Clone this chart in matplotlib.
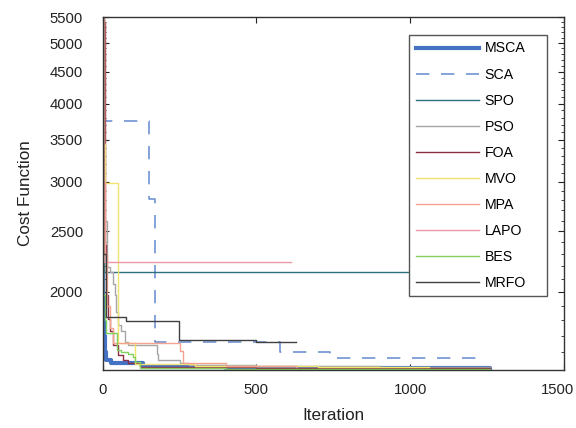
import matplotlib
matplotlib.use("Agg")
import matplotlib.pyplot as plt
from matplotlib.ticker import FixedLocator, NullFormatter, FixedFormatter
from matplotlib.transforms import ScaledTranslation

plt.rcParams['font.family'] = ['Liberation Sans', 'DejaVu Sans']

names = ["MSCA", "SCA", "SPO", "PSO", "FOA", "MVO", "MPA", "LAPO", "BES", "MRFO"]

msca_it = [0, 1, 2, 3, 5, 8, 12, 29, 104, 130, 400, 800, 1260]
msca_v = [5500, 3600, 2300, 1900, 1700, 1605, 1556, 1537, 1537, 1514, 1511, 1509, 1507]

sca_it = [0, 3, 151, 172, 576, 738, 1250]
sca_v = [5500, 3750, 2815, 1665, 1603, 1566, 1566]

spo_it = [0, 2, 5, 1260]
spo_v = [5500, 3000, 2154, 2154]

pso_it = [0, 2, 15, 25, 34, 40, 45, 50, 61, 72, 83, 170, 176, 181, 230, 251, 280, 500, 900, 1260]
pso_v = [5500, 2600, 2193, 2150, 2056, 1977, 1860, 1770, 1730, 1665, 1645, 1645, 1593, 1556, 1556, 1537, 1528, 1520, 1515, 1512]

foa_it = [0, 5, 7, 9, 12, 18, 23, 34, 50, 67, 83, 122, 170, 500, 900, 1260]
foa_v = [5500, 5400, 3500, 2377, 1977, 1813, 1730, 1645, 1583, 1556, 1537, 1518, 1516, 1512, 1510, 1508]

mvo_it = [0, 5, 9, 49, 105, 300, 700, 1060]
mvo_v = [5500, 3450, 2982, 1655, 1533, 1525, 1518, 1514]

mpa_it = [0, 3, 8, 15, 25, 34, 246, 252, 262, 400, 630]
mpa_v = [5500, 3000, 2300, 1900, 1750, 1655, 1655, 1610, 1537, 1522, 1516]

lapo_it = [0, 4, 614]
lapo_v = [5500, 2235, 2235]

bes_it = [0, 2, 7, 10, 48, 60, 84, 100, 105, 122, 400, 800, 1260]
bes_v = [5500, 1977, 1800, 1718, 1614, 1605, 1593, 1575, 1546, 1509, 1508, 1507, 1506]

mrfo_it = [0, 3, 12, 77, 249, 500, 630]
mrfo_v = [5500, 2300, 1826, 1797, 1676, 1661, 1661]

series = [
    (msca_it, msca_v, "#4472c4", 3.0, "-"),
    (sca_it, sca_v, "#6f93d3", 1.2, (0, (8, 7))),
    (spo_it, spo_v, "#2f7080", 1.0, "-"),
    (pso_it, pso_v, "#a6a6a6", 1.0, "-"),
    (foa_it, foa_v, "#8c2f45", 1.0, "-"),
    (mvo_it, mvo_v, "#f2e26e", 1.0, "-"),
    (mpa_it, mpa_v, "#f5a38f", 1.0, "-"),
    (lapo_it, lapo_v, "#ef97a6", 1.0, "-"),
    (bes_it, bes_v, "#84d05c", 1.0, "-"),
    (mrfo_it, mrfo_v, "#404040", 1.0, "-"),
]

ytick_vals = [2000, 2500, 3000, 3500, 4000, 4500, 5000, 5500]
xtick_vals = [0, 500, 1000, 1500]

fig = plt.figure(figsize=(5.76, 4.28), dpi=100)
ax = fig.add_axes([0.178, 0.1355, 0.801, 0.8245])

for (it, v, c, lw, ls), name in zip(series, names):
    ax.plot(it, v, color=c, lw=lw, linestyle=ls, drawstyle="steps-post", label=name)

ax.set_yscale("log")
ax.set_ylim(1500, 5500)
ax.set_xlim(0, 1500)
ax.yaxis.set_major_locator(FixedLocator(ytick_vals))
ax.yaxis.set_major_formatter(FixedFormatter([str(v) for v in ytick_vals]))
minors = [v for v in range(1500, 5600, 100) if v not in ytick_vals]
ax.yaxis.set_minor_locator(FixedLocator(minors))
ax.yaxis.set_minor_formatter(NullFormatter())
ax.set_xticks(xtick_vals)

ax.tick_params(which="both", direction="in", top=True, right=True, labelsize=10.7, colors="#222222")
ax.tick_params(which="major", length=4, width=0.8)
ax.tick_params(which="minor", length=2, width=0.6)
ax.tick_params(axis="y", which="major", pad=14)
ax.tick_params(axis="x", which="major", pad=9)
for s in ax.spines.values():
    s.set_color("#333333")
    s.set_linewidth(1.0)

ax.set_xlabel("Iteration", fontsize=12.3, color="#222222", labelpad=8)
ax.set_ylabel("Cost Function", fontsize=12.3, color="#222222", labelpad=12)

# nudge the last x tick label slightly left, as in the reference
last = ax.get_xticklabels()[-1]
last.set_transform(last.get_transform() + ScaledTranslation(-6 / 100, 0, fig.dpi_scale_trans))

leg = ax.legend(loc="upper left", bbox_to_anchor=(0.665, 0.949, 0.298, 0.0), mode="expand",
                borderaxespad=0, fontsize=10.2, handlelength=4.5, labelspacing=0.85,
                fancybox=False, framealpha=1, edgecolor="#555555", borderpad=0.45,
                handletextpad=0.35)
leg.get_frame().set_linewidth(1.0)

fig.savefig("out.png", dpi=100)
